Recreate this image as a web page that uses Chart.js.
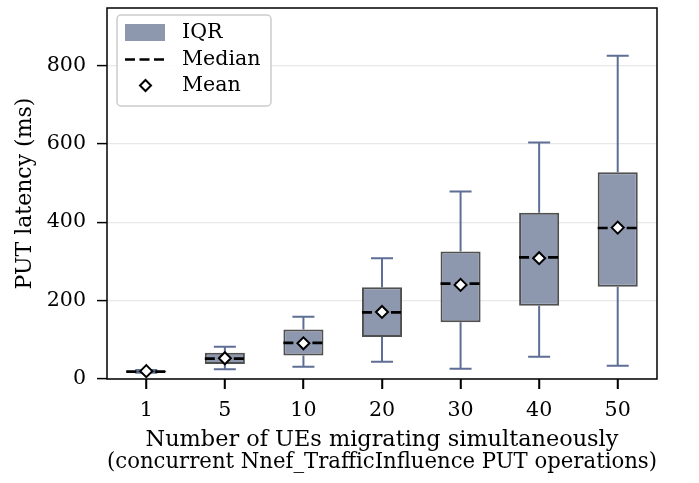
<!DOCTYPE html>
<html>
<head>
<meta charset="utf-8">
<script src="https://cdn.jsdelivr.net/npm/chart.js@4.4.1/dist/chart.umd.min.js"></script>
<style>
  html, body { margin: 0; padding: 0; background: #fff; }
  #wrap { width: 699px; height: 483px; }
</style>
</head>
<body>
<div id="wrap"><canvas id="myChart" width="699" height="483"></canvas></div>
<script>
// values (ms)
const ueCounts = ['1', '5', '10', '20', '30', '40', '50'];
const whiskerLow = [16, 25, 31, 44, 26, 57, 34];
const q1Data = [17, 38, 60, 107, 145, 187, 235];
const medianData = [19, 52, 92, 170, 243, 310, 385];
const q3Data = [21, 67, 126, 234, 325, 424, 527];
const whiskerHigh = [23, 82, 159, 308, 478, 603, 824];
const meanData = [20, 53, 91, 171, 240, 308, 386];
const yTicks = [0, 200, 400, 600, 800];

const FONT = 'DejaVu Serif';
const boxFill = 'rgb(141,151,174)';
const boxEdge = 'rgb(80,80,80)';
const whiskerColor = 'rgb(94,110,148)';

const iqrData = q1Data.map((q, i) => [q, q3Data[i]]);

// whiskers + caps, drawn under the boxes
const whiskerPlugin = {
  id: 'whiskers',
  beforeDatasetsDraw(chart) {
    const ctx = chart.ctx, xs = chart.scales.x, ys = chart.scales.y;
    const step = xs.getPixelForValue(1) - xs.getPixelForValue(0);
    ctx.save();
    ctx.strokeStyle = whiskerColor;
    ctx.lineWidth = 2;
    ueCounts.forEach((c, i) => {
      const x = xs.getPixelForValue(i);
      const lo = ys.getPixelForValue(whiskerLow[i]), hi = ys.getPixelForValue(whiskerHigh[i]);
      const a = ys.getPixelForValue(q1Data[i]), b = ys.getPixelForValue(q3Data[i]);
      const cw = step * 0.14;
      ctx.beginPath();
      ctx.moveTo(x, b); ctx.lineTo(x, hi);
      ctx.moveTo(x, a); ctx.lineTo(x, lo);
      ctx.moveTo(x - cw, hi); ctx.lineTo(x + cw, hi);
      ctx.moveTo(x - cw, lo); ctx.lineTo(x + cw, lo);
      ctx.stroke();
    });
    ctx.restore();
  },
  // dashed median on top of the boxes, below the mean markers
  afterDatasetDraw(chart, args) {
    if (args.index !== 0) return;
    const ctx = chart.ctx, ys = chart.scales.y;
    ctx.save();
    ctx.strokeStyle = '#000';
    ctx.lineWidth = 2.7;
    ctx.setLineDash([10, 4.5]);
    args.meta.data.forEach((bar, i) => {
      const y = ys.getPixelForValue(medianData[i]);
      ctx.beginPath();
      ctx.moveTo(bar.x - bar.width / 2, y);
      ctx.lineTo(bar.x + bar.width / 2, y);
      ctx.stroke();
    });
    ctx.restore();
  }
};

// axes frame, x tick marks and the legend box in the upper left
const framePlugin = {
  id: 'frame',
  afterDraw(chart) {
    const ctx = chart.ctx, a = chart.chartArea, xs = chart.scales.x;
    ctx.save();
    ctx.setLineDash([]);
    ctx.strokeStyle = '#000';
    ctx.lineWidth = 1.5;
    ctx.strokeRect(a.left, a.top, a.right - a.left, a.bottom - a.top);
    ctx.fillStyle = '#000';
    ueCounts.forEach((c, i) => {
      const x = Math.round(xs.getPixelForValue(i));
      ctx.fillRect(x - 0.75, a.bottom, 1.5, 10);
    });

    // legend
    const lx = 117, ly = 15, lw = 154, lh = 91;
    ctx.beginPath();
    ctx.roundRect(lx, ly, lw, lh, 4);
    ctx.fillStyle = 'rgba(255,255,255,0.85)';
    ctx.fill();
    ctx.strokeStyle = 'rgb(204,204,204)';
    ctx.lineWidth = 1.5;
    ctx.stroke();

    ctx.fillStyle = boxFill;
    ctx.fillRect(125, 24, 40, 17);

    ctx.strokeStyle = '#000';
    ctx.lineWidth = 2.7;
    ctx.setLineDash([10, 4.5]);
    ctx.beginPath();
    ctx.moveTo(125, 59.5); ctx.lineTo(165, 59.5);
    ctx.stroke();
    ctx.setLineDash([]);

    ctx.beginPath();
    const dx = 145.5, dy = 85.5, r = 5.5;
    ctx.moveTo(dx, dy - r); ctx.lineTo(dx + r, dy); ctx.lineTo(dx, dy + r); ctx.lineTo(dx - r, dy);
    ctx.closePath();
    ctx.fillStyle = '#fff';
    ctx.fill();
    ctx.lineWidth = 2;
    ctx.stroke();

    ctx.fillStyle = '#000';
    ctx.font = '20.6px "' + FONT + '"';
    ctx.textAlign = 'left';
    ctx.textBaseline = 'middle';
    ctx.fillText('IQR', 182, 33);
    ctx.fillText('Median', 182, 59.5);
    ctx.fillText('Mean', 182, 85.5);
    ctx.restore();
  }
};

Chart.defaults.font.family = FONT;
Chart.defaults.font.size = 20.6;
Chart.defaults.color = '#000';

new Chart(document.querySelector('#myChart'), {
  data: {
    labels: ueCounts,
    datasets: [
      {
        type: 'bar',
        label: 'IQR',
        data: iqrData,
        backgroundColor: boxFill,
        borderColor: boxEdge,
        borderWidth: 2,
        borderSkipped: false,
        categoryPercentage: 1,
        barPercentage: 0.51,
        order: 2
      },
      {
        type: 'line',
        label: 'Mean',
        data: meanData,
        showLine: false,
        pointStyle: 'rectRot',
        pointRadius: 6,
        pointBackgroundColor: '#fff',
        pointBorderColor: '#000',
        pointBorderWidth: 2,
        order: 1
      }
    ]
  },
  options: {
    responsive: false,
    animation: false,
    layout: { padding: { top: 5, right: 42, left: 0, bottom: 0 } },
    plugins: { legend: { display: false }, tooltip: { enabled: false } },
    scales: {
      x: {
        type: 'category',
        offset: true,
        grid: { offset: false, drawOnChartArea: false, tickLength: 10, tickColor: '#000', tickWidth: 1.5 },
        border: { display: false },
        ticks: { padding: 9, maxRotation: 0 },
        title: {
          display: true,
          text: ['Number of UEs migrating simultaneously', '(concurrent Nnef_TrafficInfluence PUT operations)'],
          font: { size: 22.4, lineHeight: 1.0 },
          padding: { top: 0, bottom: 9.4 }
        },
        afterFit(scale) { scale.height = 104; scale.paddingLeft = 0; scale.paddingRight = 0; }
      },
      y: {
        min: 0,
        max: 946,
        grid: { color: 'rgb(232,232,232)', lineWidth: 1.2, tickLength: 10, tickColor: '#000', tickWidth: 1.5 },
        border: { display: false },
        ticks: { padding: 11, stepSize: 200 },
        afterBuildTicks(scale) { scale.ticks = yTicks.map(v => ({ value: v })); },
        title: {
          display: true,
          text: 'PUT latency (ms)',
          font: { size: 22, lineHeight: 1.0 },
          padding: { top: 14, bottom: 0 }
        },
        afterFit(scale) { scale.width = 107; scale.paddingTop = 0; scale.paddingBottom = 0; }
      }
    }
  },
  plugins: [whiskerPlugin, framePlugin]
});
</script>
</body>
</html>
